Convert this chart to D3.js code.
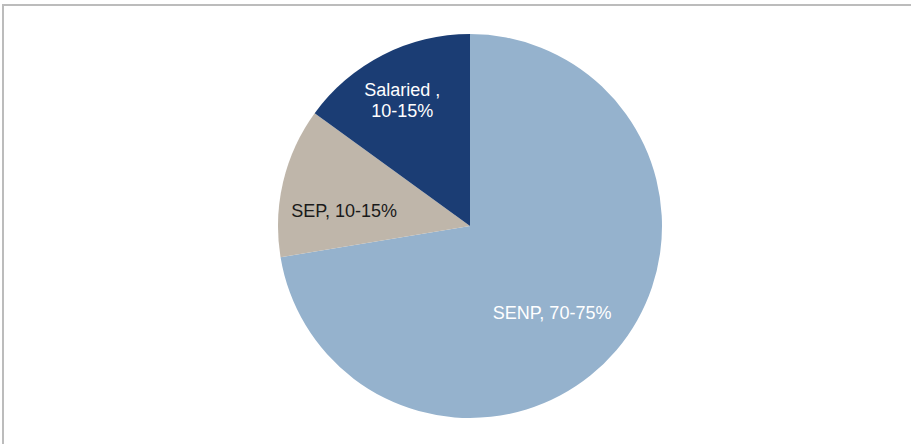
<!DOCTYPE html>
<html>
<head>
<meta charset="utf-8">
<script src="https://cdn.jsdelivr.net/npm/d3@7/dist/d3.min.js"></script>
<style>
  html, body { margin: 0; padding: 0; background: #fff; }
  svg { display: block; }
</style>
</head>
<body>
<svg id="chart" width="911" height="444"></svg>
<script>
// Income segment mix (share of customers, %)
const categories = ["SENP", "SEP", "Salaried"];
const shares = [72.4, 12.6, 15.0];
const labelLines = [["SENP, 70-75%"], ["SEP, 10-15%"], ["Salaried ,", "10-15%"]];
const colors = ["#95b2cd", "#bfb6aa", "#1b3d74"];
const labelColors = ["#ffffff", "#1a1a1a", "#ffffff"];

const width = 911, height = 444;
const cx = 470, cy = 226, radius = 192;

const svg = d3.select("#chart");

// panel frame (top and left rules)
svg.append("line").attr("x1", 3).attr("x2", width).attr("y1", 5).attr("y2", 5)
  .attr("stroke", "#bcbcbc").attr("stroke-width", 2);
svg.append("line").attr("x1", 3).attr("x2", 3).attr("y1", 4).attr("y2", height)
  .attr("stroke", "#bcbcbc").attr("stroke-width", 2);

const data = categories.map((c, i) => ({ name: c, value: shares[i], lines: labelLines[i], color: colors[i], text: labelColors[i] }));

const pie = d3.pie().value(d => d.value).sort(null);
const arcs = pie(data);
const arc = d3.arc().innerRadius(0).outerRadius(radius);

const g = svg.append("g").attr("transform", `translate(${cx},${cy})`);

g.selectAll("path.slice")
  .data(arcs)
  .join("path")
  .attr("class", "slice")
  .attr("d", arc)
  .attr("fill", d => d.data.color);

// label placement: polar position (angle offset from slice middle, radius fraction)
const labelPlacement = { SENP: { dAngle: 6.1, r: 0.62 }, SEP: { dAngle: -6.4, r: 0.66 }, Salaried: { dAngle: -1.3, r: 0.745 } };
const lineHeight = 21.5;

arcs.forEach(a => {
  const p = labelPlacement[a.data.name];
  const ang = (a.startAngle + a.endAngle) / 2 + p.dAngle * Math.PI / 180;
  const x = Math.sin(ang) * radius * p.r;
  const y = -Math.cos(ang) * radius * p.r;
  const n = a.data.lines.length;
  const t = g.append("text")
    .attr("text-anchor", "middle")
    .attr("font-family", "Liberation Sans, Arial, sans-serif")
    .attr("font-size", 18)
    .attr("fill", a.data.text);
  a.data.lines.forEach((line, i) => {
    t.append("tspan")
      .attr("x", x)
      .attr("y", y + (i - (n - 1) / 2) * lineHeight)
      .attr("dy", "0.35em")
      .text(line);
  });
});
</script>
</body>
</html>
